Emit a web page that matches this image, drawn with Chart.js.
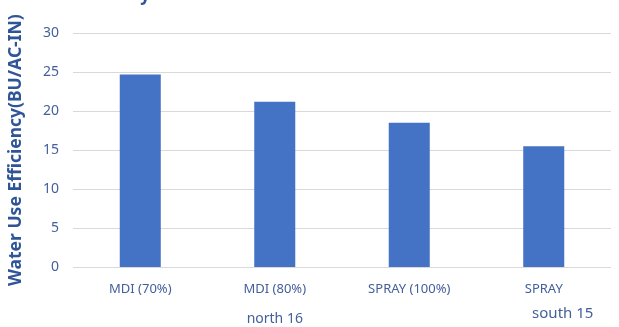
<!DOCTYPE html>
<html>
<head>
<meta charset="utf-8">
<script src="https://cdn.jsdelivr.net/npm/chart.js@4"></script>
<style>
  html, body { margin: 0; padding: 0; background: #fff; }
  #wrap { width: 619px; height: 327px; position: relative; }
</style>
</head>
<body>
<div id="wrap"><canvas id="chart"></canvas></div>
<script>
/* ---------- DATA ---------- */
const categories = ['MDI (70%)', 'MDI (80%)', 'SPRAY (100%)', 'SPRAY'];
const efficiency = [24.7, 21.2, 18.5, 15.5];
const groupLabels = ['north 16', 'south 15'];
const yTitle = 'Water Use Efficiency(BU/AC-IN)';

const BAR = '#4472c4';
const TEXT = '#44609b';
const FONT = "'Noto Sans', sans-serif";

/* ---- group labels under the category axis ---- */
const groupPlugin = {
    id: 'groupLabels',
    afterDraw(chart) {
        const ctx = chart.ctx;
        const x = chart.scales.x;
        ctx.save();
        ctx.fillStyle = TEXT;
        ctx.textAlign = 'center';
        ctx.textBaseline = 'middle';
        ctx.font = '14px ' + FONT;
        ctx.fillText(groupLabels[0], x.getPixelForValue(1), 319);
        ctx.font = '15px ' + FONT;
        ctx.fillText(groupLabels[1], x.getPixelForValue(3) + 19, 314);
        // cut-off title descender at the top edge
        ctx.fillStyle = '#2f5597';
        ctx.font = 'bold 17px ' + FONT;
        ctx.fillText('y', 145, -4);
        ctx.restore();
    }
};

new Chart(document.getElementById('chart'), {
    type: 'bar',
    data: {
        labels: categories,
        datasets: [{
            data: efficiency,
            backgroundColor: BAR,
            categoryPercentage: 1,
            barPercentage: 0.305
        }]
    },
    options: {
        responsive: true,
        maintainAspectRatio: false,
        animation: false,
        layout: { padding: { top: 33, right: 8, bottom: 24, left: 6 } },
        plugins: { legend: { display: false }, tooltip: { enabled: false } },
        scales: {
            x: {
                grid: { display: false },
                border: { display: false },
                ticks: { color: TEXT, font: { family: FONT, size: 13 }, padding: 6, maxRotation: 0 }
            },
            y: {
                min: 0, max: 30,
                ticks: { stepSize: 5, color: TEXT, font: { family: FONT, size: 14 }, padding: 14 },
                grid: { color: '#d9d9d9', drawTicks: false },
                border: { display: false },
                title: {
                    display: true,
                    text: yTitle,
                    color: '#2f5597',
                    font: { family: FONT, size: 17.5, weight: 'bold' },
                    padding: { top: 0, bottom: 2 }
                }
            }
        }
    },
    plugins: [groupPlugin]
});
</script>
</body>
</html>
